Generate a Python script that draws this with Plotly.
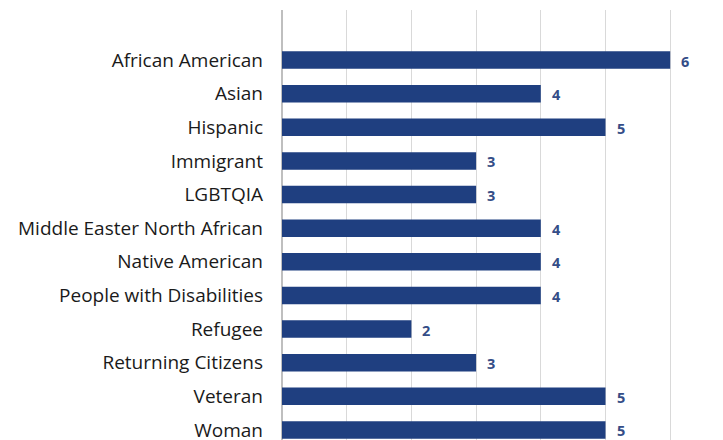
import plotly.graph_objects as go

categories = ["African American", "Asian", "Hispanic", "Immigrant", "LGBTQIA",
              "Middle Easter North African", "Native American", "People with Disabilities",
              "Refugee", "Returning Citizens", "Veteran", "Woman"]
values = [6, 4, 5, 3, 3, 4, 4, 4, 2, 3, 5, 5]

fig = go.Figure(go.Bar(
    x=values, y=categories, orientation="h",
    marker=dict(color="#1f3f80", line=dict(width=0)),
))

for c, v in zip(categories, values):
    fig.add_annotation(x=v, y=c, text=str(v), showarrow=False,
                       xanchor="left", yanchor="middle", xshift=9, yshift=-1,
                       font=dict(family="Open Sans", size=14.5, color="#344d87", weight="bold"))

fig.update_layout(
    width=723, height=440,
    margin=dict(l=274, r=0, t=2, b=0),
    paper_bgcolor="white", plot_bgcolor="white",
    bargap=0.48,
    showlegend=False,
    xaxis=dict(range=[0, 449/64.7], dtick=1, showticklabels=False,
               showgrid=True, gridcolor="#d9d9d9", gridwidth=1,
               zeroline=True, zerolinecolor="#bfbfbf", zerolinewidth=2),
    yaxis=dict(range=[11.3 + 8/33.62, -1.49], categoryorder="array", categoryarray=categories,
               tickfont=dict(family="Open Sans", size=19, color="#1a1a1a"),
               ticklabelstandoff=18, showgrid=False, ticks=""),
)

fig.write_html("out.html")
